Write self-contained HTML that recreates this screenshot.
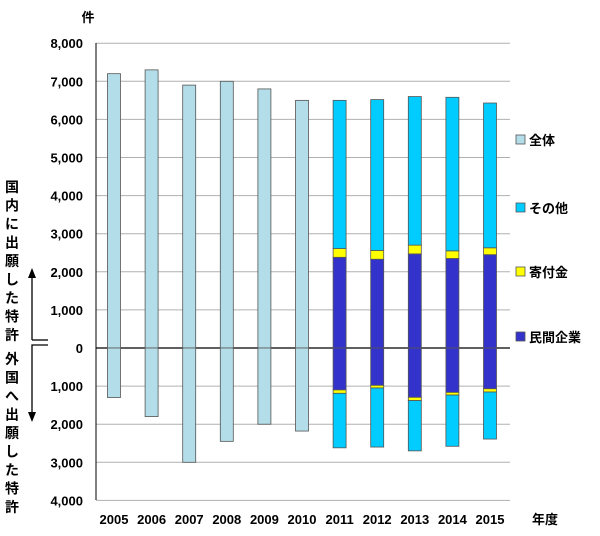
<!DOCTYPE html>
<html><head><meta charset="utf-8"><style>
body{margin:0;background:#fff}
text{font-family:"Liberation Sans","Noto Sans CJK JP",sans-serif;font-size:13px;font-weight:bold;fill:#000}
text.v{font-size:14px}
</style></head><body>
<svg id="c" width="600" height="531" xmlns="http://www.w3.org/2000/svg"></svg>
<script>
const years=["2005","2006","2007","2008","2009","2010","2011","2012","2013","2014","2015"];
const totalDom=[7200,7300,6900,7000,6800,6500,null,null,null,null,null];
const totalFor=[1300,1800,3000,2450,2000,2180,null,null,null,null,null];
const minkanDom=[0,0,0,0,0,0,2380,2330,2470,2350,2450];
const kifuDom=[0,0,0,0,0,0,230,230,230,200,180];
const otherDom=[0,0,0,0,0,0,3890,3960,3900,4030,3800];
const minkanFor=[0,0,0,0,0,0,1100,980,1295,1165,1070];
const kifuFor=[0,0,0,0,0,0,90,70,85,70,85];
const otherFor=[0,0,0,0,0,0,1430,1550,1320,1345,1235];
const yTicks=[8000,7000,6000,5000,4000,3000,2000,1000,0,-1000,-2000,-3000,-4000];
const yTickLabels=["8,000","7,000","6,000","5,000","4,000","3,000","2,000","1,000","0","1,000","2,000","3,000","4,000"];

const svg=document.getElementById('c');const NS="http://www.w3.org/2000/svg";
function el(t,a,txt){const e=document.createElementNS(NS,t);for(const k in a)e.setAttribute(k,a[k]);if(txt!=null)e.textContent=txt;svg.appendChild(e);return e;}
const y=v=>348-v*0.0381;
const x=i=>114+i*37.6;
const bw=13;
yTicks.forEach((t,i)=>{
 const g=el('line',{x1:96,x2:510,y1:y(t),y2:y(t),stroke:t===0?'#000':'#b0b0b0','stroke-width':t===0?1.3:1});
 
 const l=el('text',{x:83,y:y(t)+5,'text-anchor':'end'},yTickLabels[i]);
 
});
const ax=el('line',{x1:96,x2:96,y1:43,y2:500,stroke:'#000'});

function bar(i,v0,v1,fill,name){
 const a=y(v0),b=y(v1);
 const r=el('rect',{x:x(i)-bw/2,y:Math.min(a,b),width:bw,height:Math.abs(a-b),fill:fill,stroke:'#555','stroke-width':0.8});
 
}
years.forEach((yr,i)=>{
 if(totalDom[i]!=null){bar(i,0,totalDom[i],'#b3dde8','bar-total-domestic');bar(i,0,-totalFor[i],'#b3dde8','bar-total-foreign');}
 else{
  let s=0;bar(i,s,s+minkanDom[i],'#3333cc','bar-minkan-domestic');s+=minkanDom[i];
  bar(i,s,s+kifuDom[i],'#ffff00','bar-kifu-domestic');s+=kifuDom[i];
  bar(i,s,s+otherDom[i],'#00ccff','bar-other-domestic');
  s=0;bar(i,-s,-(s+minkanFor[i]),'#3333cc','bar-minkan-foreign');s+=minkanFor[i];
  bar(i,-s,-(s+kifuFor[i]),'#ffff00','bar-kifu-foreign');s+=kifuFor[i];
  bar(i,-s,-(s+otherFor[i]),'#00ccff','bar-other-foreign');
 }
 const t=el('text',{x:x(i),y:524,'text-anchor':'middle'},yr);
 
});
const legend=[["全体","#b3dde8",140],["その他","#00ccff",208],["寄付金","#ffff00",272],["民間企業","#3333cc",337]];
legend.forEach(l=>{
 const r=el('rect',{x:516,y:l[2]-5,width:9,height:9,fill:l[1],stroke:'#555','stroke-width':0.8});
 
 const t=el('text',{x:529,y:l[2]+5},l[0]);
 
});
const u=el('text',{x:88,y:22,'text-anchor':'middle'},'件');
const n=el('text',{x:545,y:524,'text-anchor':'middle'},'年度');
"国内に出願した特許".split('').forEach((c,i)=>{const t=el('text',{x:12,y:192+i*18.5,'text-anchor':'middle','class':'v'},c);});
"外国へ出願した特許".split('').forEach((c,i)=>{const t=el('text',{x:12,y:364+i*18.5,'text-anchor':'middle','class':'v'},c);});
[['M32 340 L32 276','up-arrow'],['M32 352 L32 414','down-arrow'],['M32 340 L48 340','break-mark'],['M32 352 L32 345 L48 345','break-mark']].forEach(p=>{
 const e=el('path',{d:p[0],stroke:'#000','stroke-width':1.3,fill:'none'});});
const h1=el('path',{d:'M28 278 L32 268 L36 278 Z',fill:'#000'});
const h2=el('path',{d:'M28 412 L32 422 L36 412 Z',fill:'#000'});
</script>
</body></html>
